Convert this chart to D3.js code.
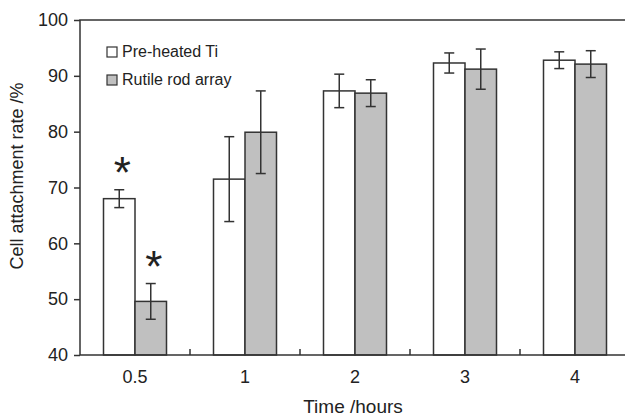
<!DOCTYPE html>
<html>
<head>
<meta charset="utf-8">
<script src="https://cdn.jsdelivr.net/npm/d3@7"></script>
<style>
body{margin:0;background:#fff;}
text{font-family:"Liberation Sans",Arial,sans-serif;fill:#222;}
</style>
</head>
<body>
<script>
// 数据
var times = ["0.5", "1", "2", "3", "4"];
var seriesNames = ["Pre-heated Ti", "Rutile rod array"];
var preheated = [68.0, 71.5, 87.3, 92.3, 92.8];
var preheatedErr = [1.6, 7.6, 3.0, 1.8, 1.5];
var rutile = [49.6, 79.9, 86.9, 91.2, 92.1];
var rutileErr = [3.2, 7.4, 2.4, 3.6, 2.4];
var yTicks = [40, 50, 60, 70, 80, 90, 100];
// 显著性标记 (series, time index)
var stars = [[0, 0], [1, 0]];

var W = 625, H = 420;
// 注意: 不要用 top 做变量名 (window.top)
var pL = 80, pT = 20, pR = 630, pB = 355;
var fills = ["#ffffff", "#c0c0c0"];
var dark = "#333";

var svg = d3.select("body").append("svg")
	.attr("width", W)
	.attr("height", H);

var x = d3.scaleBand().domain(times).range([pL, pR]);
var y = d3.scaleLinear().domain([40, 100]).range([pB, pT]);
var bw = 31.5;

var series = [
	{vals: preheated, err: preheatedErr},
	{vals: rutile, err: rutileErr}
];

//柱子
series.forEach(function(s, k){
	var g = svg.append("g");
	g.selectAll("rect").data(times).enter().append("rect")
		.attr("x", function(d){ return x(d) + x.bandwidth()/2 - bw + k*bw; })
		.attr("y", function(d, i){ return y(s.vals[i]); })
		.attr("width", bw)
		.attr("height", function(d, i){ return pB - y(s.vals[i]); })
		.attr("fill", fills[k])
		.attr("stroke", dark)
		.attr("stroke-width", 1.5);
	//误差线
	times.forEach(function(d, i){
		var cx = x(d) + x.bandwidth()/2 - bw/2 + k*bw;
		var y1 = y(s.vals[i] + s.err[i]), y2 = y(s.vals[i] - s.err[i]);
		g.append("line").attr("x1", cx).attr("x2", cx).attr("y1", y1).attr("y2", y2)
			.attr("stroke", dark).attr("stroke-width", 1.5);
		[y1, y2].forEach(function(yy){
			g.append("line").attr("x1", cx-5).attr("x2", cx+5).attr("y1", yy).attr("y2", yy)
				.attr("stroke", dark).attr("stroke-width", 1.5);
		});
	});
});

//星号
stars.forEach(function(st){
	var s = series[st[0]], i = st[1];
	var cx = x(times[i]) + x.bandwidth()/2 - bw/2 + st[0]*bw + 3;
	svg.append("text")
		.attr("x", cx)
		.attr("y", y(s.vals[i] + s.err[i]) - 29)
		.attr("dy", "0.62em")
		.attr("text-anchor", "middle")
		.style("font-size", "44px")
		.text("*");
});

//边框
svg.append("path")
	.attr("d", "M" + pR + "," + pT + "H" + pL + "V" + pB + "H" + pR + "Z")
	.attr("fill", "none")
	.attr("stroke", dark)
	.attr("stroke-width", 1.5);

//y轴
var ya = svg.append("g").attr("transform", "translate(" + pL + ",0)")
	.call(d3.axisLeft(y).tickValues(yTicks).tickSize(6).tickPadding(6));
ya.select(".domain").remove();
ya.selectAll("line").attr("stroke", dark).attr("stroke-width", 1.5);
ya.selectAll("text").style("font-size", "18px").attr("fill", "#222");

//x轴刻度 (组之间, 向内)
var bounds = times.slice(1).map(function(d){ return x(d); });
svg.selectAll(".xt").data(bounds).enter().append("line")
	.attr("x1", function(d){ return d; })
	.attr("x2", function(d){ return d; })
	.attr("y1", pB)
	.attr("y2", pB - 6)
	.attr("stroke", dark)
	.attr("stroke-width", 1.5);
svg.selectAll(".xl").data(times).enter().append("text")
	.attr("x", function(d){ return x(d) + x.bandwidth()/2; })
	.attr("y", 383)
	.attr("text-anchor", "middle")
	.style("font-size", "18px")
	.text(function(d){ return d; });

//轴标题
svg.append("text")
	.attr("x", 353)
	.attr("y", 413)
	.attr("text-anchor", "middle")
	.style("font-size", "19px")
	.text("Time /hours");
svg.append("text")
	.attr("transform", "translate(23,176) rotate(-90)")
	.attr("text-anchor", "middle")
	.style("font-size", "18px")
	.text("Cell attachment rate /%");

//图例
seriesNames.forEach(function(n, k){
	var by = 57 + k*28;
	svg.append("rect")
		.attr("x", 107).attr("y", by - 10)
		.attr("width", 10).attr("height", 10)
		.attr("fill", fills[k])
		.attr("stroke", dark)
		.attr("stroke-width", 1.2);
	svg.append("text")
		.attr("x", 122).attr("y", by)
		.style("font-size", "16px")
		.text(n);
});
</script>
</body>
</html>
